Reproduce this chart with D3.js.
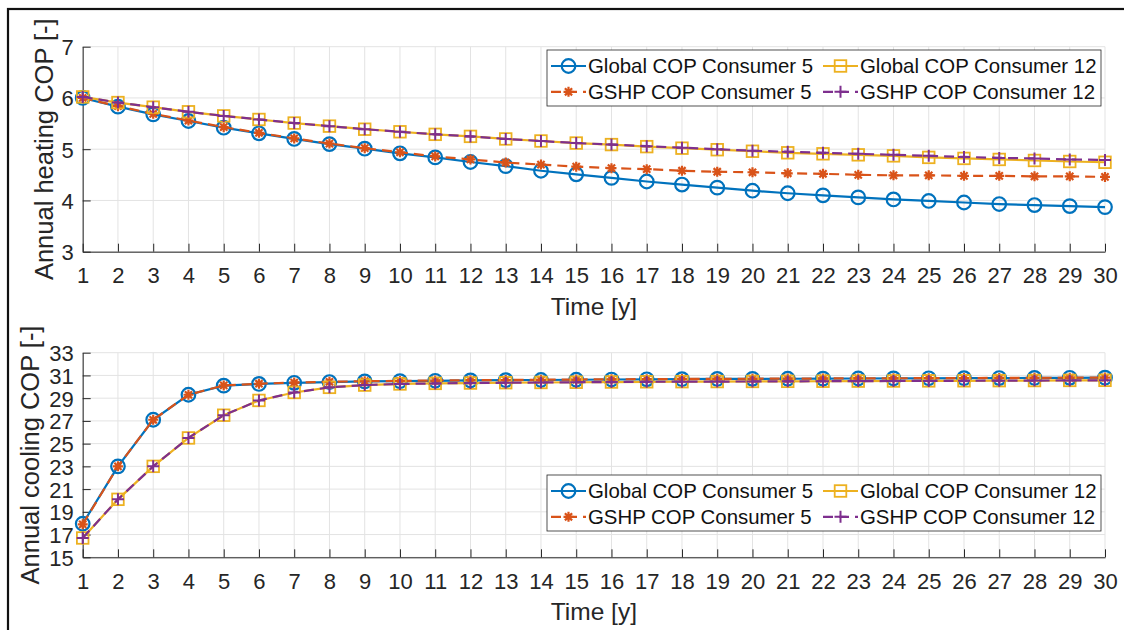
<!DOCTYPE html>
<html>
<head>
<meta charset="utf-8">
<script src="https://cdn.jsdelivr.net/npm/d3@7"></script>
<style>
  body { margin: 0; background: #fff; }
  svg { display: block; font-family: "Liberation Sans", Arial, sans-serif; }
</style>
</head>
<body>
<svg id="chart" width="1124" height="630"></svg>
<script>
// Years on the x axis
const years = d3.range(1, 31);

// Annual heating COP (top panel)
const heatGlobal5 = [6.0, 5.83, 5.68, 5.55, 5.42, 5.31, 5.2, 5.1, 5.01, 4.92, 4.84, 4.75, 4.67, 4.58, 4.51, 4.44, 4.37, 4.31, 4.25, 4.19, 4.14, 4.1, 4.06, 4.02, 3.99, 3.96, 3.93, 3.91, 3.89, 3.87];
const heatGshp5 = [6.0, 5.84, 5.69, 5.56, 5.43, 5.32, 5.21, 5.11, 5.02, 4.94, 4.86, 4.8, 4.74, 4.7, 4.66, 4.63, 4.61, 4.58, 4.56, 4.55, 4.53, 4.52, 4.5, 4.49, 4.49, 4.48, 4.48, 4.47, 4.47, 4.46];
const heatGlobal12 = [6.02, 5.91, 5.82, 5.73, 5.65, 5.58, 5.51, 5.45, 5.39, 5.34, 5.29, 5.25, 5.2, 5.16, 5.12, 5.09, 5.05, 5.02, 4.99, 4.96, 4.93, 4.91, 4.89, 4.87, 4.84, 4.82, 4.8, 4.78, 4.76, 4.745];
const heatGshp12 = [6.02, 5.91, 5.82, 5.73, 5.65, 5.58, 5.51, 5.45, 5.39, 5.34, 5.29, 5.25, 5.2, 5.16, 5.12, 5.09, 5.06, 5.03, 5.0, 4.97, 4.95, 4.93, 4.91, 4.89, 4.87, 4.85, 4.83, 4.82, 4.8, 4.79];

// Annual cooling COP (bottom panel)
const coolGlobal5 = [17.95, 23.0, 27.1, 29.3, 30.1, 30.25, 30.35, 30.42, 30.47, 30.5, 30.53, 30.56, 30.58, 30.6, 30.62, 30.64, 30.66, 30.67, 30.69, 30.7, 30.71, 30.72, 30.73, 30.74, 30.75, 30.76, 30.77, 30.78, 30.79, 30.8];
const coolGshp5 = [17.9, 23.0, 27.1, 29.3, 30.12, 30.27, 30.37, 30.44, 30.49, 30.52, 30.55, 30.58, 30.6, 30.62, 30.64, 30.66, 30.67, 30.69, 30.7, 30.71, 30.72, 30.73, 30.74, 30.75, 30.76, 30.77, 30.78, 30.79, 30.8, 30.81];
const coolGlobal12 = [16.7, 20.1, 23.0, 25.5, 27.5, 28.8, 29.5, 29.95, 30.15, 30.25, 30.3, 30.33, 30.36, 30.38, 30.4, 30.42, 30.44, 30.45, 30.46, 30.47, 30.48, 30.49, 30.5, 30.51, 30.52, 30.53, 30.54, 30.55, 30.56, 30.57];
const coolGshp12 = [16.7, 20.1, 23.0, 25.5, 27.5, 28.8, 29.5, 29.95, 30.15, 30.25, 30.3, 30.33, 30.36, 30.38, 30.4, 30.42, 30.44, 30.45, 30.46, 30.47, 30.48, 30.49, 30.5, 30.51, 30.52, 30.53, 30.54, 30.55, 30.56, 30.57];

const seriesNames = ["Global COP Consumer 5", "Global COP Consumer 12", "GSHP COP Consumer 5", "GSHP COP Consumer 12"];
const heatTicks = [3, 4, 5, 6, 7];
const coolTicks = [15, 17, 19, 21, 23, 25, 27, 29, 31, 33];

// MATLAB default colours
const styles = {
    g5: {color: "#0072BD", dash: null, marker: "circle"},
    g12: {color: "#EDB120", dash: null, marker: "square"},
    s5: {color: "#D95319", dash: "10,6", marker: "star"},
    s12: {color: "#7E2F8E", dash: "10,6", marker: "plus"}
};
const axisColor = "#262626";

const svg = d3.select("#chart");

// outer frame (partly off-canvas, like the cropped figure)
svg.append("rect")
    .attr("x", 8).attr("y", 9).attr("width", 1140).attr("height", 660)
    .attr("fill", "none").attr("stroke", "#111").attr("stroke-width", 2.2);

const x = d3.scaleLinear().domain([1, 30]).range([82.7, 1105]);

// draw one marker of the given type at (cx, cy)
function drawMarker(g, type, cx, cy, color){
    if (type === "circle"){
        g.append("circle").attr("cx", cx).attr("cy", cy).attr("r", 6.8)
            .attr("fill", "none").attr("stroke", color).attr("stroke-width", 2.2);
    } else if (type === "square"){
        g.append("rect").attr("x", cx - 5.8).attr("y", cy - 5.8).attr("width", 11.6).attr("height", 11.6)
            .attr("fill", "none").attr("stroke", color).attr("stroke-width", 1.8);
    } else if (type === "star"){
        const r = 5, d = 3.6;
        g.append("path")
            .attr("d", `M${cx - r},${cy}H${cx + r}M${cx},${cy - r}V${cy + r}M${cx - d},${cy - d}L${cx + d},${cy + d}M${cx - d},${cy + d}L${cx + d},${cy - d}`)
            .attr("stroke", color).attr("stroke-width", 2.2).attr("fill", "none");
    } else {
        const r = 6;
        g.append("path")
            .attr("d", `M${cx - r},${cy}H${cx + r}M${cx},${cy - r}V${cy + r}`)
            .attr("stroke", color).attr("stroke-width", 2).attr("fill", "none");
    }
}

function drawPanel(cfg){
    const y = d3.scaleLinear().domain(cfg.domain).range([cfg.bottom, cfg.top]);
    const g = svg.append("g");

    // grid
    g.append("g").selectAll("line").data(years).join("line")
        .attr("x1", d => x(d)).attr("x2", d => x(d))
        .attr("y1", cfg.top).attr("y2", cfg.bottom)
        .attr("stroke", "#e3e3e3").attr("stroke-width", 1);
    g.append("g").selectAll("line").data(cfg.ticks).join("line")
        .attr("x1", x.range()[0]).attr("x2", x.range()[1])
        .attr("y1", d => y(d)).attr("y2", d => y(d))
        .attr("stroke", "#e3e3e3").attr("stroke-width", 1);

    // axes (ticks pointing inward like MATLAB)
    const xAxis = g.append("g")
        .attr("transform", `translate(0,${cfg.bottom})`)
        .call(d3.axisBottom(x).tickValues(years).tickFormat(d3.format("d"))
            .tickSizeInner(-8).tickSizeOuter(0).tickPadding(16));
    const yAxis = g.append("g")
        .attr("transform", `translate(${x.range()[0]},0)`)
        .call(d3.axisLeft(y).tickValues(cfg.ticks).tickFormat(d3.format("d"))
            .tickSizeInner(-8).tickSizeOuter(0).tickPadding(9));
    [xAxis, yAxis].forEach(a => {
        a.select(".domain").attr("stroke", axisColor).attr("stroke-width", 1);
        a.selectAll(".tick line").attr("stroke", axisColor).attr("stroke-width", 1);
        a.selectAll(".tick text").attr("fill", axisColor)
            .style("font-size", "22px").style("font-family", "Liberation Sans, Arial, sans-serif");
    });
    yAxis.selectAll(".tick text").attr("dy", "0.36em");

    // axis titles
    g.append("text")
        .attr("x", (x.range()[0] + x.range()[1]) / 2).attr("y", cfg.bottom + 63)
        .attr("text-anchor", "middle").attr("fill", axisColor)
        .style("font-size", "24.5px").text("Time [y]");
    g.append("text")
        .attr("transform", `translate(${cfg.labelX},${(cfg.top + cfg.bottom) / 2}) rotate(-90)`)
        .attr("text-anchor", "middle").attr("fill", axisColor)
        .style("font-size", "25.5px").text(cfg.label);

    // series lines then markers
    const line = d3.line().x((d, i) => x(years[i])).y(d => y(d));
    cfg.series.forEach(s => {
        const st = styles[s.key];
        g.append("path").datum(s.values)
            .attr("d", line).attr("fill", "none")
            .attr("stroke", st.color).attr("stroke-width", 2.2)
            .attr("stroke-dasharray", st.dash);
        const mg = g.append("g");
        s.values.forEach((v, i) => drawMarker(mg, st.marker, x(years[i]), y(v), st.color));
    });

    // legend
    const lg = g.append("g");
    lg.append("rect")
        .attr("x", 547).attr("y", cfg.legendTop).attr("width", 554).attr("height", 56)
        .attr("fill", "#fff").attr("stroke", axisColor).attr("stroke-width", 0.8);
    const items = [
        {key: "g5", name: seriesNames[0], col: 0, row: 0},
        {key: "g12", name: seriesNames[1], col: 1, row: 0},
        {key: "s5", name: seriesNames[2], col: 0, row: 1},
        {key: "s12", name: seriesNames[3], col: 1, row: 1}
    ];
    const colX = [551, 823];
    items.forEach(it => {
        const st = styles[it.key];
        const cy = cfg.legendTop + 16 + it.row * 25.8;
        const x0 = colX[it.col];
        lg.append("line")
            .attr("x1", x0).attr("x2", x0 + 35).attr("y1", cy).attr("y2", cy)
            .attr("stroke", st.color).attr("stroke-width", 2.2)
            .attr("stroke-dasharray", st.dash);
        drawMarker(lg, st.marker, x0 + 17.5, cy, st.color);
        lg.append("text")
            .attr("x", x0 + 37).attr("y", cy).attr("dy", "0.36em")
            .attr("fill", "#111").style("font-size", "20.4px").text(it.name);
    });
}

drawPanel({
    domain: [3, 7], ticks: heatTicks, top: 46.7, bottom: 251.7,
    label: "Annual heating COP [-]", labelX: 53, legendTop: 50,
    series: [
        {key: "g5", values: heatGlobal5},
        {key: "s5", values: heatGshp5},
        {key: "g12", values: heatGlobal12},
        {key: "s12", values: heatGshp12}
    ]
});

drawPanel({
    domain: [15, 33], ticks: coolTicks, top: 352.7, bottom: 557.3,
    label: "Annual cooling COP [-]", labelX: 39, legendTop: 475,
    series: [
        {key: "g5", values: coolGlobal5},
        {key: "s5", values: coolGshp5},
        {key: "g12", values: coolGlobal12},
        {key: "s12", values: coolGshp12}
    ]
});
</script>
</body>
</html>
